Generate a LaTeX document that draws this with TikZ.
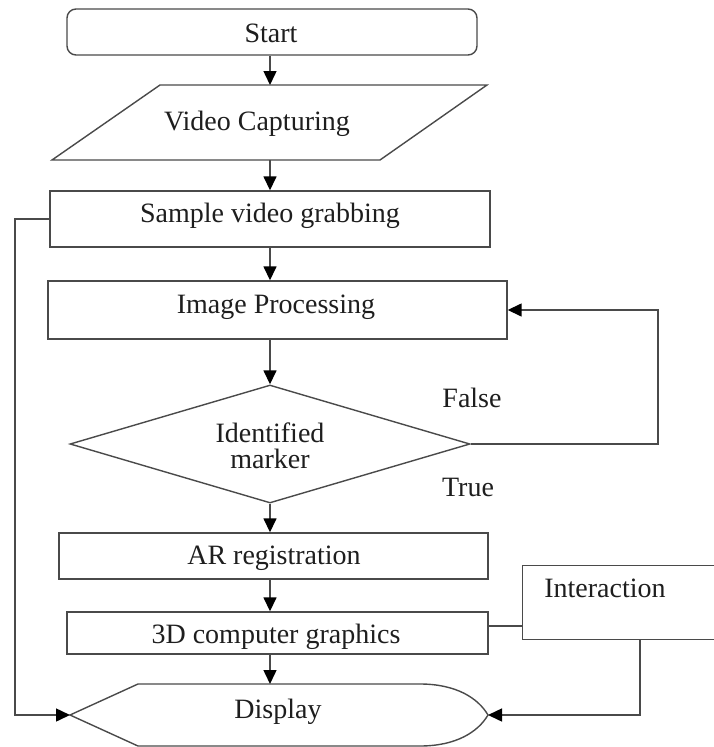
\documentclass[tikz,border=0pt]{standalone}
\usepackage{fontspec}
\setmainfont{Liberation Serif}
\newfontfamily\tnr{Liberation Serif}
\usetikzlibrary{arrows.meta,shapes.geometric}
\definecolor{lin}{HTML}{4A4A4A}
\definecolor{txtc}{HTML}{1E1E1E}
\tikzset{
  every picture/.style={x=1pt,y=-1pt},
  lbl/.style={font=\tnr\fontsize{28}{28}\selectfont, text=txtc, inner sep=0pt},
  boxst/.style={draw=lin, line width=1.4pt, fill=white, inner sep=0pt},
  arr/.style={draw=lin, line width=1.5pt, -{Triangle[length=14pt,width=13pt,fill=black,color=black]}},
  ln/.style={draw=lin, line width=1.4pt}
}
\begin{document}
\begin{tikzpicture}
\useasboundingbox (0,0) rectangle (714,747);
\clip (0,0) rectangle (714,747);
\fill[white] (0,0) rectangle (714,747);

% Start
\node[boxst, rounded corners=9pt, minimum width=410pt, minimum height=46pt] (start) at (272,32) {};
\node[lbl] (starttxt) at (271,33) {Start};

% Video capturing (parallelogram)
\draw[ln, fill=white] (160,85) -- (487,85) -- (380,160) -- (52,160) -- cycle;
\coordinate (vtop) at (270,85);
\coordinate (vbot) at (270,160);
\node[lbl] (video) at (257,124) {Video Capturing};

% Sample video grabbing
\node[boxst, minimum width=440pt, minimum height=56pt] (sample) at (270,219) {};
\node[lbl] (sampletxt) at (270,216) {Sample video grabbing};

% Image processing
\node[boxst, minimum width=459pt, minimum height=58pt] (img) at (277.5,310) {};
\node[lbl] (imgtxt) at (276,307) {Image Processing};

% Decision
\node[boxst, diamond, minimum width=400pt, minimum height=118pt] (dia) at (270,444) {};
\node[lbl, align=center] (diatxt) at (270,446) {Identified\\[-2pt]marker};
\node[lbl] (falsetxt) at (472,398) {False};
\node[lbl] (truetxt) at (468,487) {True};

% AR registration
\node[boxst, minimum width=429pt, minimum height=46pt] (ar) at (273.5,556) {};
\node[lbl] (artxt) at (274,558) {AR registration};

% 3D computer graphics
\node[boxst, minimum width=421pt, minimum height=42pt] (g3d) at (277.5,633) {};
\node[lbl] (g3dtxt) at (276,637) {3D computer graphics};

% Interaction
\node[boxst, anchor=north west, minimum width=230pt, minimum height=74pt] (inter) at (522,565) {};
\node[lbl] (intertxt) at (605,588) {Interaction};
\coordinate (interbot) at (640,639);

% Display
\draw[ln, fill=white] (70,715) -- (138,684) -- (420,684)
  .. controls (456,684) and (478,698) .. (488,715)
  .. controls (478,732) and (456,746) .. (420,746) -- (138,746) -- cycle;
\coordinate (dtop) at (270,684);
\coordinate (dleft) at (70,715);
\coordinate (dright) at (488,715);
\node[lbl] (disptxt) at (278,712) {Display};

% Connectors
\draw[arr] (start.south -| vtop) -- (vtop);
\draw[arr] (vbot) -- (vbot |- sample.north);
\draw[arr] (sample.south -| vtop) -- (img.north -| vtop);
\draw[arr] (img.south -| dia.north) -- (dia.north);
\draw[arr] (dia.south) -- (ar.north -| dia.south);
\draw[arr] (ar.south -| dia.south) -- (g3d.north -| dia.south);
\draw[arr] (g3d.south -| dtop) -- (dtop);
\draw[arr] (dia.east) -- (658,444) |- (img.east);
\draw[arr] (sample.west) -- (15,219) |- (dleft);
\draw[ln] (g3d.east |- 0,626) -- (inter.west |- 0,626);
\draw[arr] (interbot) |- (dright);
\end{tikzpicture}
\end{document}
